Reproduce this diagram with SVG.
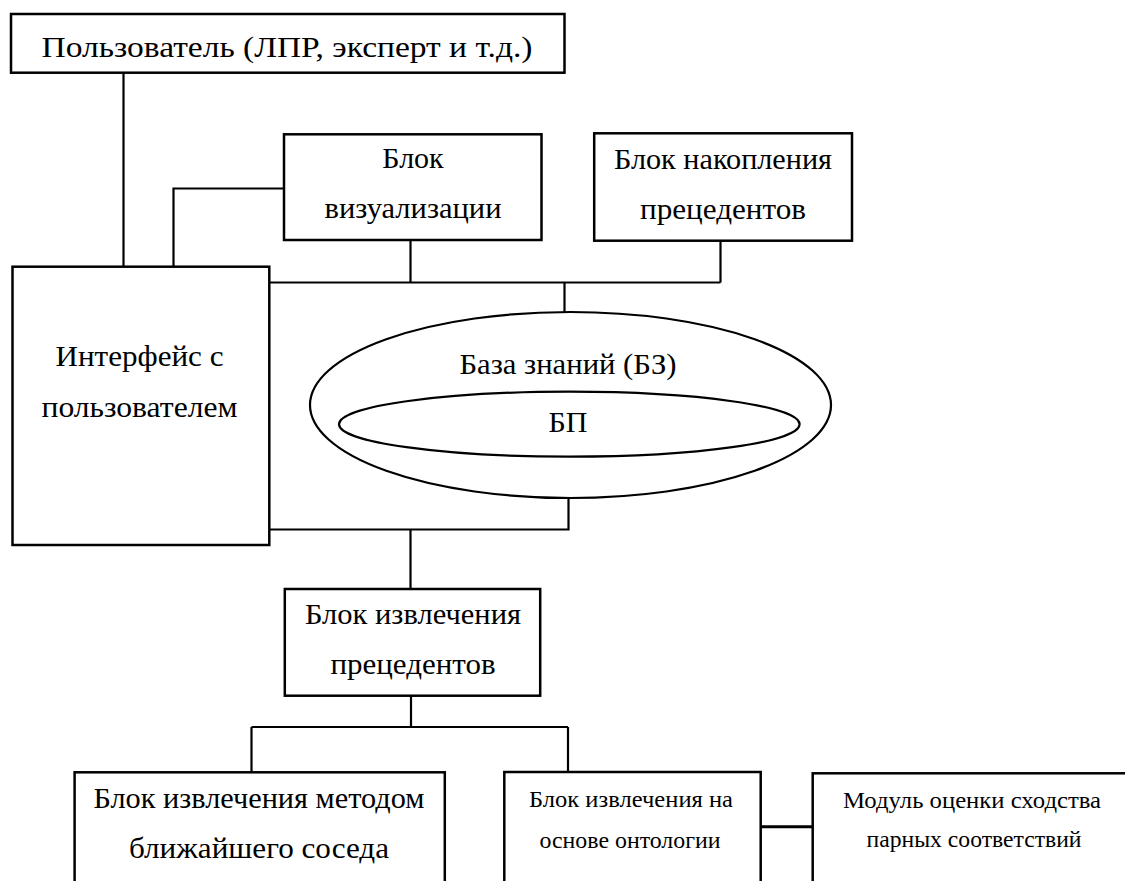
<svg xmlns="http://www.w3.org/2000/svg" width="1125" height="881" viewBox="0 0 1125 881">
<style>
.box{fill:#fff;stroke:#000;stroke-width:2.5}
.ell{fill:#fff;stroke:#000;stroke-width:2.2}
.ln{fill:none;stroke:#000;stroke-width:2.2}
</style>
<rect width="1125" height="881" fill="#fff"/>
<g id="connectors">
<path class="ln" d="M123.5,73 V267"/>
<path class="ln" d="M173.5,267 V188.5 H284"/>
<path class="ln" d="M410.5,240 V282.5 M720.5,240 V282.5 M269,282.5 H720.5 M564.5,282.5 V312"/>
<path class="ln" d="M568.5,498 V529.5 H269 M410.5,529.5 V589"/>
<path class="ln" d="M411,696 V727 M251.5,727 H568 M251.5,727 V772 M568,727 V772"/>
<path class="ln" d="M760.5,826.7 H812.7" style="stroke-width:3"/>
</g>
<g id="user">
<rect class="box" x="11" y="14" width="553.5" height="58.7"/>
<text font-family="Liberation Serif" font-size="30" text-anchor="middle" x="287" y="57" textLength="491" lengthAdjust="spacingAndGlyphs">Пользователь (ЛПР, эксперт и т.д.)</text>
</g>
<g id="vis">
<rect class="box" x="284" y="134.3" width="257.5" height="105.7"/>
<text font-family="Liberation Serif" font-size="30" text-anchor="middle" x="413" y="168.3">Блок</text>
<text font-family="Liberation Serif" font-size="30" text-anchor="middle" x="413" y="218.3" textLength="177" lengthAdjust="spacingAndGlyphs">визуализации</text>
</g>
<g id="acc">
<rect class="box" x="594.2" y="133.3" width="257.8" height="107.4"/>
<text font-family="Liberation Serif" font-size="30" text-anchor="middle" x="723" y="169.3" textLength="218" lengthAdjust="spacingAndGlyphs">Блок накопления</text>
<text font-family="Liberation Serif" font-size="30" text-anchor="middle" x="723" y="219.3" textLength="166" lengthAdjust="spacingAndGlyphs">прецедентов</text>
</g>
<g id="interface">
<rect class="box" x="12.5" y="266.7" width="256.8" height="278.3"/>
<text font-family="Liberation Serif" font-size="30" text-anchor="middle" x="139.5" y="366" textLength="168" lengthAdjust="spacingAndGlyphs">Интерфейс с</text>
<text font-family="Liberation Serif" font-size="30" text-anchor="middle" x="139.5" y="417.3" textLength="196" lengthAdjust="spacingAndGlyphs">пользователем</text>
</g>
<g id="kb">
<ellipse class="ell" cx="570.5" cy="405" rx="260.5" ry="93"/>
<text font-family="Liberation Serif" font-size="30" text-anchor="middle" x="568" y="374" textLength="217" lengthAdjust="spacingAndGlyphs">База знаний (БЗ)</text>
<ellipse class="ell" cx="569.3" cy="424.2" rx="230.3" ry="32.5"/>
<text font-family="Liberation Serif" font-size="30" text-anchor="middle" x="568" y="431.7">БП</text>
</g>
<g id="extract">
<rect class="box" x="284.8" y="589" width="255.4" height="106.7"/>
<text font-family="Liberation Serif" font-size="30" text-anchor="middle" x="413" y="624" textLength="216" lengthAdjust="spacingAndGlyphs">Блок извлечения</text>
<text font-family="Liberation Serif" font-size="30" text-anchor="middle" x="413" y="674.3" textLength="165" lengthAdjust="spacingAndGlyphs">прецедентов</text>
</g>
<g id="nn">
<rect class="box" x="74.6" y="772.3" width="370.2" height="140"/>
<text font-family="Liberation Serif" font-size="30" text-anchor="middle" x="259" y="808.3" textLength="331" lengthAdjust="spacingAndGlyphs">Блок извлечения методом</text>
<text font-family="Liberation Serif" font-size="30" text-anchor="middle" x="259" y="858.3" textLength="260" lengthAdjust="spacingAndGlyphs">ближайшего соседа</text>
</g>
<g id="onto">
<rect class="box" x="504.3" y="772" width="256.4" height="140"/>
<text font-family="Liberation Serif" font-size="23" text-anchor="middle" x="631" y="806.7" textLength="204" lengthAdjust="spacingAndGlyphs">Блок извлечения  на</text>
<text font-family="Liberation Serif" font-size="23" text-anchor="middle" x="630" y="847.7" textLength="181" lengthAdjust="spacingAndGlyphs">основе онтологии</text>
</g>
<g id="module">
<rect class="box" x="812.7" y="773.3" width="340" height="140"/>
<text font-family="Liberation Serif" font-size="23" text-anchor="middle" x="972" y="807.7" textLength="258" lengthAdjust="spacingAndGlyphs">Модуль оценки  сходства</text>
<text font-family="Liberation Serif" font-size="23" text-anchor="middle" x="974" y="847.3" textLength="215" lengthAdjust="spacingAndGlyphs">парных соответствий</text>
</g>
</svg>
